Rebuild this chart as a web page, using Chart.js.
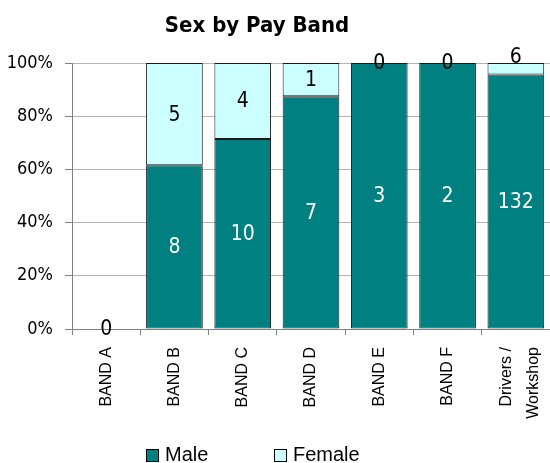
<!DOCTYPE html>
<html>
<head>
<meta charset="utf-8">
<title>Sex by Pay Band</title>
<script src="https://cdn.jsdelivr.net/npm/chart.js@4.4.1/dist/chart.umd.min.js"></script>
<style>
  html, body { margin: 0; padding: 0; background: #fff; }
  #wrap { width: 550px; height: 463px; overflow: hidden; }
</style>
</head>
<body>
<div id="wrap"><canvas id="chart" width="550" height="463"></canvas></div>
<script>
// Pay bands and head counts by sex
const categories = ['BAND A', 'BAND B', 'BAND C', 'BAND D', 'BAND E', 'BAND F', ['Drivers /', 'Workshop']];
const maleCounts = [0, 8, 10, 7, 3, 2, 132];
const femaleCounts = [0, 5, 4, 1, 0, 0, 6];
const yTicks = [0, 20, 40, 60, 80, 100];

const TITLE = 'Sex by Pay Band';
const MALE_COLOR = '#008080';
const FEMALE_COLOR = '#CCFFFF';
const NUM_FONT = "'DejaVu Sans Condensed', 'DejaVu Sans', sans-serif";
const TXT_FONT = "'Liberation Sans', Arial, sans-serif";

// Share of each band, in percent
function share(counts, i) {
  const total = maleCounts[i] + femaleCounts[i];
  return total === 0 ? 0 : counts[i] / total * 100;
}
const malePct = maleCounts.map((_, i) => share(maleCounts, i));
const femalePct = femaleCounts.map((_, i) => share(femaleCounts, i));

// Count labels drawn on each segment
const countLabels = {
  id: 'countLabels',
  afterDatasetsDraw(chart) {
    const ctx = chart.ctx;
    ctx.save();
    ctx.font = '21px ' + NUM_FONT;
    ctx.textAlign = 'center';
    ctx.textBaseline = 'middle';
    const counts = [maleCounts, femaleCounts];
    const used = new Set();
    chart.data.datasets.forEach((ds, di) => {
      const meta = chart.getDatasetMeta(di);
      meta.data.forEach((bar, i) => {
        const v = counts[di][i];
        const top = Math.min(bar.y, bar.base);
        const bottom = Math.max(bar.y, bar.base);
        const h = bottom - top;
        let y = (top + bottom) / 2;
        if (h > 0 && h < 16) y = top - 6;
        const key = Math.round(bar.x) + ':' + Math.round(y) + ':' + v;
        if (used.has(key)) return;
        used.add(key);
        ctx.fillStyle = (di === 0 && h > 0) ? '#ffffff' : '#000000';
        ctx.fillText(String(v), bar.x, y + 1);
      });
    });
    ctx.restore();
  }
};

// Centre the two-line category label on its tick
const centreMultiline = {
  id: 'centreMultiline',
  beforeDraw(chart) {
    const scale = chart.scales.x;
    const items = scale.getLabelItems(chart.chartArea);
    items.forEach(item => {
      const lines = Array.isArray(item.label) ? item.label.length : 1;
      if (lines > 1 && !item._centred) {
        item.options.translation[0] -= 9;
        item._centred = true;
      }
    });
  }
};

// Title and legend
const frame = {
  id: 'frame',
  afterDraw(chart) {
    const ctx = chart.ctx;
    ctx.save();
    ctx.fillStyle = '#000';
    ctx.font = 'bold 22px ' + NUM_FONT;
    ctx.textAlign = 'center';
    ctx.textBaseline = 'alphabetic';
    ctx.fillText(TITLE, 257, 32);

    const items = [
      { label: 'Male', color: MALE_COLOR, x: 146 },
      { label: 'Female', color: FEMALE_COLOR, x: 274 }
    ];
    ctx.font = '20px ' + TXT_FONT;
    ctx.textAlign = 'left';
    items.forEach(it => {
      ctx.fillStyle = it.color;
      ctx.fillRect(it.x + 0.5, 449.5, 12, 12);
      ctx.strokeStyle = '#000';
      ctx.lineWidth = 1;
      ctx.strokeRect(it.x + 0.5, 449.5, 12, 12);
      ctx.fillStyle = '#000';
      ctx.fillText(it.label, it.x + 19, 461);
    });
    ctx.restore();
  }
};

new Chart(document.getElementById('chart'), {
  type: 'bar',
  data: {
    labels: categories,
    datasets: [
      {
        label: 'Male',
        data: malePct,
        backgroundColor: MALE_COLOR,
        borderColor: '#1a1a1a',
        borderWidth: 1,
        borderSkipped: false,
        barPercentage: 0.83,
        categoryPercentage: 1.0
      },
      {
        label: 'Female',
        data: femalePct,
        backgroundColor: FEMALE_COLOR,
        borderColor: '#1a1a1a',
        borderWidth: 1,
        borderSkipped: false,
        barPercentage: 0.83,
        categoryPercentage: 1.0
      }
    ]
  },
  options: {
    responsive: false,
    animation: false,
    devicePixelRatio: 1,
    layout: { padding: { top: 63, right: -4, bottom: 24, left: 0 } },
    plugins: {
      legend: { display: false },
      title: { display: false },
      tooltip: { enabled: false }
    },
    scales: {
      x: {
        stacked: true,
        grid: {
          drawOnChartArea: false,
          offset: true,
          tickLength: 6,
          tickColor: '#808080'
        },
        border: { color: '#808080', width: 1 },
        ticks: {
          minRotation: 90,
          maxRotation: 90,
          autoSkip: false,
          padding: 12,
          color: '#000',
          font: { family: TXT_FONT, size: 16, lineHeight: 1.7 }
        },
        afterFit(scale) {
          scale.height = 110;
          scale.paddingLeft = 0;
          scale.paddingRight = 0;
        }
      },
      y: {
        stacked: true,
        min: 0,
        max: 100,
        afterBuildTicks(scale) { scale.ticks = yTicks.map(v => ({ value: v })); },
        grid: {
          color: '#b4b4b4',
          tickLength: 7,
          tickColor: '#808080'
        },
        border: { color: '#808080', width: 1 },
        ticks: {
          padding: 12,
          color: '#000',
          font: { family: NUM_FONT, size: 18 },
          callback: v => v + '%'
        },
        afterFit(scale) {
          scale.width = 72;
          scale.paddingTop = 0;
          scale.paddingBottom = 0;
        }
      }
    }
  },
  plugins: [centreMultiline, countLabels, frame]
});
</script>
</body>
</html>
